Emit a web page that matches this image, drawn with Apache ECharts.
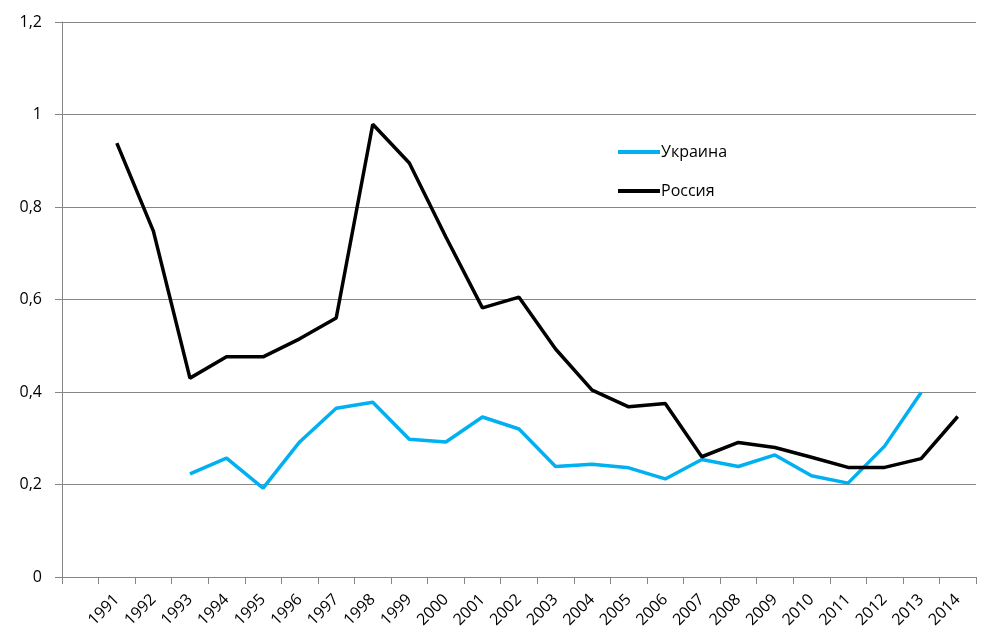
<!DOCTYPE html>
<html><head><meta charset="utf-8">
<script src="https://cdn.jsdelivr.net/npm/echarts@6/dist/echarts.min.js"></script>
<style>html,body{margin:0;padding:0;background:#fff}#c{width:993px;height:642px}</style>
</head><body><div id="c"></div>
<script>
const categories = ['', '1991','1992','1993','1994','1995','1996','1997','1998','1999','2000','2001','2002','2003','2004','2005','2006','2007','2008','2009','2010','2011','2012','2013','2014'];
const ukraine = [null, null, null, 0.223, 0.257, 0.192, 0.292, 0.365, 0.378, 0.298, 0.292, 0.346, 0.320, 0.239, 0.244, 0.236, 0.212, 0.254, 0.239, 0.264, 0.219, 0.203, 0.283, 0.399, null];
const russia = [null, 0.938, 0.748, 0.430, 0.476, 0.476, 0.515, 0.560, 0.979, 0.895, 0.735, 0.582, 0.605, 0.493, 0.404, 0.368, 0.375, 0.260, 0.291, 0.280, 0.259, 0.237, 0.237, 0.256, 0.347];
const yTicks = {min: 0, max: 1.2, interval: 0.2};

const font = 'Open Sans, DejaVu Sans, sans-serif';
const chart = echarts.init(document.getElementById('c'));
chart.setOption({
  animation: false,
  grid: {left: 62, right: 17, top: 22, bottom: 65},
  legend: {
    orient: 'vertical', left: 613, top: 139, itemWidth: 42, itemHeight: 4, itemGap: 23,
    icon: 'rect',
    textStyle: {fontFamily: font, fontSize: 16, color: '#000', padding: [0,0,0,-4]},
    data: ['Украина', 'Россия']
  },
  xAxis: {
    type: 'category', data: categories, boundaryGap: true,
    axisLine: {lineStyle: {color: '#868686', width: 1}},
    axisTick: {show: true, length: 7, alignWithLabel: false, interval: 0, lineStyle: {color: '#868686'}},
    axisLabel: {interval: 0, rotate: 45, fontFamily: font, fontSize: 16, color: '#000', margin: 20}
  },
  yAxis: {
    type: 'value', min: yTicks.min, max: yTicks.max, interval: yTicks.interval,
    axisLine: {show: true, lineStyle: {color: '#868686'}},
    axisTick: {show: true, length: 7, lineStyle: {color: '#868686'}},
    splitLine: {lineStyle: {color: '#868686', width: 1}},
    axisLabel: {fontFamily: font, fontSize: 16, color: '#000', margin: 20,
      formatter: v => String(Math.round(v*10)/10).replace('.', ',')}
  },
  series: [
    {name: 'Украина', type: 'line', data: ukraine, symbol: 'none', color: '#00B0F0',
     lineStyle: {width: 3.5, color: '#00B0F0'}, connectNulls: false},
    {name: 'Россия', type: 'line', data: russia, symbol: 'none', color: '#000',
     lineStyle: {width: 3.5, color: '#000'}, connectNulls: false}
  ]
});
</script></body></html>
